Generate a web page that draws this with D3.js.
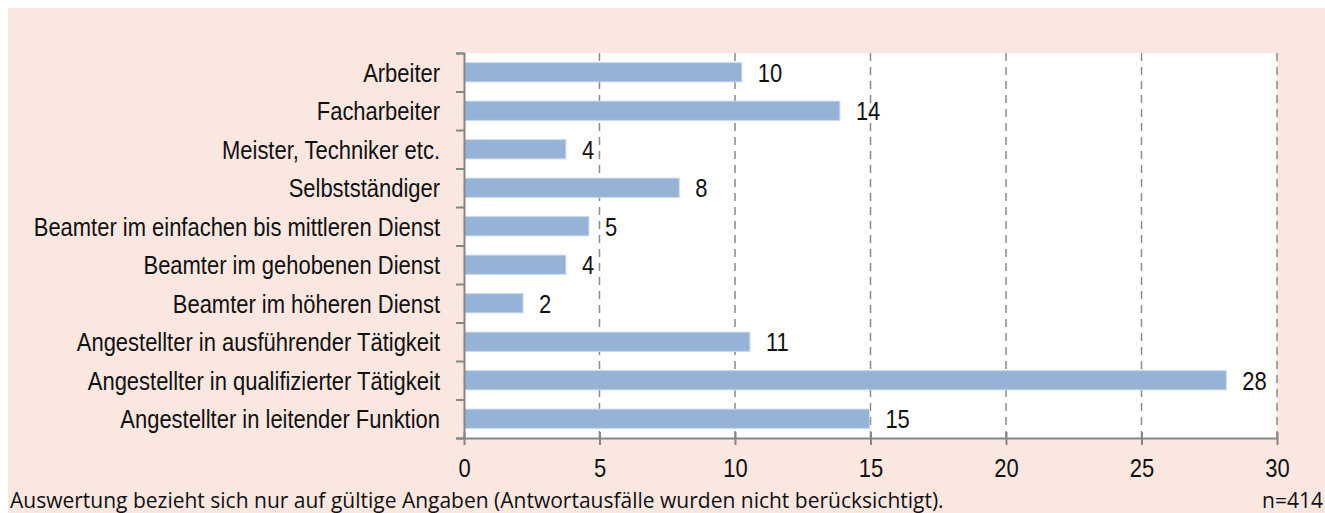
<!DOCTYPE html>
<html>
<head>
<meta charset="utf-8">
<script src="https://cdn.jsdelivr.net/npm/d3@7"></script>
<style>
    html, body { margin: 0; padding: 0; background: #fff; }
    svg { display: block; }
</style>
</head>
<body>
<div id="chart"></div>
<script>
// Kategorien (von oben nach unten)
var categories = [
    'Arbeiter',
    'Facharbeiter',
    'Meister, Techniker etc.',
    'Selbstständiger',
    'Beamter im einfachen bis mittleren Dienst',
    'Beamter im gehobenen Dienst',
    'Beamter im höheren Dienst',
    'Angestellter in ausführender Tätigkeit',
    'Angestellter in qualifizierter Tätigkeit',
    'Angestellter in leitender Funktion'
];

// Anteile in Prozent
var values = [10.25, 13.87, 3.76, 7.94, 4.61, 3.76, 2.18, 10.55, 28.13, 14.96];

var xTicks = [0, 5, 10, 15, 20, 25, 30];

var footnote = 'Auswertung bezieht sich nur auf gültige Angaben (Antwortausfälle wurden nicht berücksichtigt).';
var sampleSize = 'n=414';

var width = 1325;
var height = 513;
var plot = { left: 464, right: 1277, top: 53, bottom: 438 };

// schmale Schrift: Liberation Sans horizontal gestaucht
var labelFont = '"Liberation Sans", Arial, sans-serif';
var narrow = 0.845;
var textFont = '"Open Sans", "Liberation Sans", sans-serif';

var svg = d3.select('#chart')
    .append('svg')
    .attr('width', width)
    .attr('height', height);

// Hintergrund
svg.append('rect')
    .attr('x', 8)
    .attr('y', 8)
    .attr('width', width - 8)
    .attr('height', height - 8)
    .attr('fill', '#f9e7e0');

svg.append('rect')
    .attr('x', plot.left)
    .attr('y', plot.top)
    .attr('width', plot.right - plot.left)
    .attr('height', plot.bottom - plot.top)
    .attr('fill', '#fff');

var x = d3.scaleLinear()
    .domain([0, 30])
    .range([plot.left, plot.right]);

var y = d3.scaleBand()
    .domain(categories)
    .range([plot.top, plot.bottom])
    .paddingInner(0.5)
    .paddingOuter(0.25);

// Gitterlinien
svg.append('g')
    .selectAll('line')
    .data(xTicks.filter(function (d) { return d > 0; }))
    .join('line')
    .attr('x1', function (d) { return x(d); })
    .attr('x2', function (d) { return x(d); })
    .attr('y1', plot.top)
    .attr('y2', plot.bottom)
    .attr('stroke', '#8a8a8a')
    .attr('stroke-width', 1.5)
    .attr('stroke-dasharray', '8,6');

// Balken
svg.append('g')
    .selectAll('rect')
    .data(values)
    .join('rect')
    .attr('x', x(0))
    .attr('y', function (d, i) { return y(categories[i]); })
    .attr('width', function (d) { return x(d) - x(0); })
    .attr('height', y.bandwidth())
    .attr('fill', '#95b3d7')
    .attr('stroke', '#c9d8ec')
    .attr('stroke-width', 1);

// Werte
svg.append('g')
    .selectAll('text')
    .data(values)
    .join('text')
    .attr('transform', function (d, i) {
        var cy = y(categories[i]) + y.bandwidth() / 2;
        return `translate(${x(d) + 16},${cy}) scale(${narrow},1)`;
    })
    .attr('dy', '0.36em')
    .attr('font-family', labelFont)
    .attr('font-size', 26)
    .attr('fill', '#111')
    .text(function (d) { return d3.format('.0f')(d); });

// Y-Achse
var yAxis = d3.axisLeft(d3.scaleLinear().domain([0, categories.length]).range([plot.top, plot.bottom]))
    .tickValues(d3.range(categories.length + 1))
    .tickSize(8)
    .tickFormat('');

var gy = svg.append('g')
    .attr('transform', `translate(${plot.left},0)`)
    .call(yAxis);
gy.select('.domain').attr('stroke', '#868686').attr('stroke-width', 2);
gy.selectAll('.tick line').attr('stroke', '#868686').attr('stroke-width', 2);

svg.append('g')
    .selectAll('text')
    .data(categories)
    .join('text')
    .attr('transform', function (d) {
        return `translate(440,${y(d) + y.bandwidth() / 2}) scale(${narrow},1)`;
    })
    .attr('dy', '0.36em')
    .attr('text-anchor', 'end')
    .attr('font-family', labelFont)
    .attr('font-size', 26)
    .attr('fill', '#111')
    .text(function (d) { return d; });

// X-Achse
var xAxis = d3.axisBottom(x)
    .tickValues(xTicks)
    .tickSize(7)
    .tickSizeOuter(0)
    .tickPadding(14);

var gx = svg.append('g')
    .attr('transform', `translate(0,${plot.bottom})`)
    .call(xAxis);
gx.select('.domain').attr('stroke', '#868686').attr('stroke-width', 2);
gx.selectAll('.tick line')
    .attr('y1', -6)
    .attr('stroke', '#868686')
    .attr('stroke-width', 2);
gx.selectAll('.tick text')
    .attr('transform', `scale(${narrow},1)`)
    .attr('font-family', labelFont)
    .attr('font-size', 26)
    .attr('fill', '#111');

// Fußnote
svg.append('text')
    .attr('x', 10)
    .attr('y', 508)
    .attr('font-family', textFont)
    .attr('font-size', 21)
    .attr('fill', '#111')
    .text(footnote);

svg.append('text')
    .attr('x', 1323)
    .attr('y', 508)
    .attr('text-anchor', 'end')
    .attr('font-family', textFont)
    .attr('font-size', 21)
    .attr('fill', '#111')
    .text(sampleSize);
</script>
</body>
</html>
